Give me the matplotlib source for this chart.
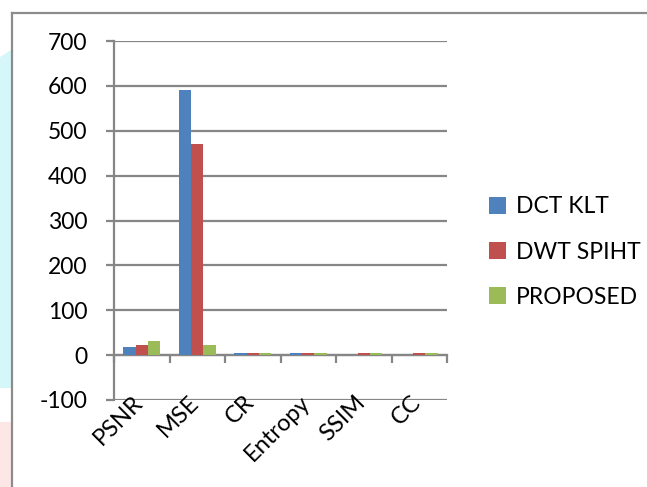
import numpy as np
import matplotlib
matplotlib.use("Agg")
import matplotlib.pyplot as plt
from matplotlib.patches import Polygon, Rectangle
from matplotlib.lines import Line2D
import matplotlib.transforms as mtransforms

plt.rcParams['font.family'] = ['Lato', 'DejaVu Sans']
plt.rcParams['axes.unicode_minus'] = False

categories = ["PSNR", "MSE", "CR", "Entropy", "SSIM", "CC"]
dct_klt = [17, 591, 5, 5, 0.9, 0.9]
dwt_spiht = [22, 471, 5, 5, 5, 5]
proposed = [30.5, 22, 5, 5, 5, 5]
series_names = ["DCT KLT", "DWT SPIHT", "PROPOSED"]
series_colors = ["#4F81BD", "#C0504D", "#9BBB59"]
y_ticks = list(range(-100, 701, 100))

W, H = 647, 487
fig = plt.figure(figsize=(W / 100, H / 100), dpi=100)

# slide background remnants on the left edge and frame border
fig.patches.append(Polygon([[0, 1 - 57 / H], [11 / W, 1 - 50 / H], [11 / W, 1 - 388 / H], [0, 1 - 388 / H]],
                           closed=True, transform=fig.transFigure, facecolor="#d6f7f9", edgecolor="none", zorder=0))
fig.patches.append(Rectangle((0, 0), 11 / W, 1 - 422 / H, transform=fig.transFigure,
                             facecolor="#fde6e6", edgecolor="none", zorder=0))
fig.lines.append(Line2D([11.5 / W, 11.5 / W], [0, 1 - 13 / H], transform=fig.transFigure, color="#8c8c8c", lw=1.6))
fig.lines.append(Line2D([11.5 / W, 1], [1 - 13 / H, 1 - 13 / H], transform=fig.transFigure, color="#8c8c8c", lw=1.6))

ax = fig.add_axes([114 / W, 1 - 400 / H, 333 / W, 359 / H])

x = np.arange(len(categories))
n = len(series_names)
bw = 1 / (n + 1.5)
for i, (vals, name, col) in enumerate(zip([dct_klt, dwt_spiht, proposed], series_names, series_colors)):
    ax.bar(x + (i - (n - 1) / 2) * bw, vals, width=bw, color=col, label=name, zorder=3, linewidth=0)

ax.set_xlim(-0.5, len(categories) - 0.5)
ax.set_ylim(-100, 700)
ax.set_yticks(y_ticks)
ax.yaxis.grid(True, color="#868686", linewidth=1.6, zorder=1)
ax.set_axisbelow(True)
for s in ["top", "right"]:
    ax.spines[s].set_visible(False)
ax.spines["left"].set_color("#868686")
ax.spines["left"].set_linewidth(1.6)
ax.spines["bottom"].set_position(("data", 0))
ax.spines["bottom"].set_color("#868686")
ax.spines["bottom"].set_linewidth(1.6)
ax.tick_params(axis="y", length=6, width=1.6, color="#868686", pad=13, labelsize=16.5)

# category boundary ticks hang from the zero line; labels sit below the axes
ax.set_xticks(np.arange(-0.5, len(categories)), minor=True)
ax.set_xticks(x)
ax.set_xticklabels([])
ax.tick_params(axis="x", which="major", length=0)
ax.tick_params(axis="x", which="minor", length=6, width=1.6, color="#868686", direction="out")

trans = mtransforms.blended_transform_factory(ax.transData, ax.transAxes)
for xi, cat in zip(x, categories):
    ax.annotate(cat, xy=(xi, 0), xycoords=trans, xytext=(4, 6), textcoords="offset points",
                rotation=45, ha="right", va="top", fontsize=17)

leg = ax.legend(loc="upper left", bbox_to_anchor=(1.125, 0.567), frameon=False, fontsize=16.5,
                handlelength=0.75, handleheight=0.8, handletextpad=0.45, labelspacing=1.05,
                borderaxespad=0, borderpad=0)

fig.savefig("out.png", dpi=100)
